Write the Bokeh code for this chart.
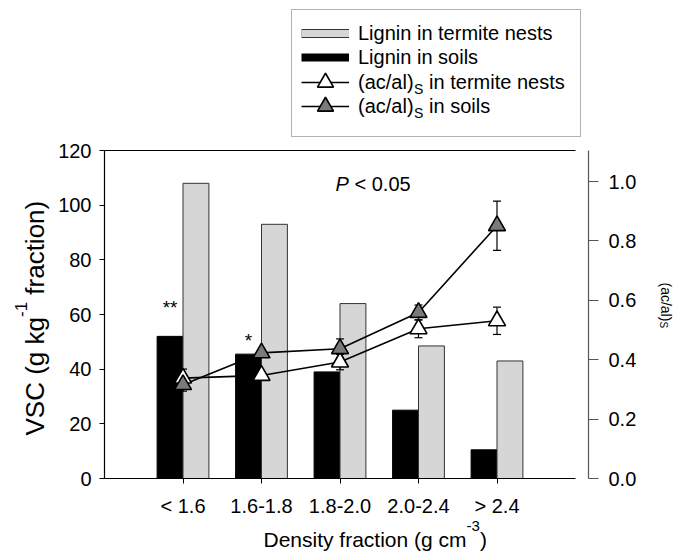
import math
from bokeh.plotting import figure
from bokeh.models import (Range1d, LinearAxis, FixedTicker, Legend, LegendItem, Label,
                          NumeralTickFormatter, BoxAnnotation)
from bokeh.embed import file_html
from bokeh.resources import INLINE

# ---------------- data ----------------
categories = ["< 1.6", "1.6-1.8", "1.8-2.0", "2.0-2.4", "> 2.4"]
lignin_nests = [108, 93, 64, 48.5, 43]
lignin_soils = [52, 45.5, 39, 25, 10.5]
acal_nests = [0.338, 0.347, 0.392, 0.504, 0.531]
acal_nests_err = [0.03, 0.01, 0.026, 0.03, 0.046]
acal_soils = [0.316, 0.423, 0.437, 0.559, 0.851]
acal_soils_err = [0.022, 0.01, 0.033, 0.025, 0.083]
left_ticks = [0, 20, 40, 60, 80, 100, 120]
right_ticks = [0.0, 0.2, 0.4, 0.6, 0.8, 1.0]
sig_marks = ["**", "*", "", "", ""]

# ---------------- layout constants (pixels) ----------------
W, H = 677, 555
FONT = "Liberation Sans"
X0_PX, Y0_PX = 104, 478          # where x=0 / y=0 fall on the canvas
XU = 78.5                         # px per category step
YU = 328 / 120                    # px per g/kg (left axis)
RU = 297                          # px per unit of right axis
RIGHT_AXIS_PX = 588
pos = [i + 1 for i in range(len(categories))]
BW = 0.33

def sy(py):                       # canvas y (from top) -> frame screen y (from bottom)
    return H - py

p = figure(width=W, height=H, output_backend="svg", toolbar_location=None,
           min_border=0, min_border_left=0, min_border_right=0,
           min_border_top=0, min_border_bottom=0,
           x_range=Range1d(-X0_PX / XU, (W - X0_PX) / XU),
           y_range=Range1d(-(H - Y0_PX) / YU, Y0_PX / YU))
p.extra_y_ranges = {"right": Range1d(-(H - Y0_PX) / RU, Y0_PX / RU)}
p.outline_line_color = None
p.grid.visible = False
p.title.visible = False

# bottom axis
xa = p.xaxis[0]
xa.fixed_location = 0
xa.ticker = FixedTicker(ticks=pos)
xa.major_label_overrides = {x: c for x, c in zip(pos, categories)}
xa.bounds = (0, 6)
xa.minor_tick_line_color = None
xa.major_tick_in = 0
xa.major_tick_out = 5
xa.major_label_standoff = 11
xa.major_label_text_font = FONT
xa.major_label_text_font_size = "20px"
xa.major_label_text_color = "black"
xa.axis_line_color = "black"
xa.axis_line_width = 1.2

# left axis
ya = p.yaxis[0]
ya.fixed_location = 0
ya.ticker = FixedTicker(ticks=left_ticks)
ya.bounds = (0, 120)
ya.minor_tick_line_color = None
ya.major_tick_in = 0
ya.major_tick_out = 5
ya.major_label_standoff = 8
ya.major_label_text_font = FONT
ya.major_label_text_font_size = "20px"
ya.major_label_text_color = "black"
ya.axis_line_color = "black"
ya.axis_line_width = 1.2

# top frame line
top_axis = LinearAxis(fixed_location=120, ticker=FixedTicker(ticks=[]), bounds=(0, 6),
                      major_tick_line_color=None, minor_tick_line_color=None,
                      major_label_text_color=None, axis_line_color="black",
                      axis_line_width=1.2)
p.add_layout(top_axis, "above")

# right axis (detached from the bars)
ra = LinearAxis(y_range_name="right", fixed_location=(RIGHT_AXIS_PX - X0_PX) / XU,
                ticker=FixedTicker(ticks=right_ticks), bounds=(0, (Y0_PX - 150) / RU),
                formatter=NumeralTickFormatter(format="0.0"))
ra.minor_tick_line_color = None
ra.major_tick_in = 0
ra.major_tick_out = 10
ra.major_tick_line_color = "#555555"
ra.axis_line_color = "#555555"
ra.axis_line_width = 1.2
ra.major_label_standoff = 10
ra.major_label_text_font = FONT
ra.major_label_text_font_size = "20px"
ra.major_label_text_color = "black"
p.add_layout(ra, "right")

# bars
p.vbar(x=[x - BW / 2 for x in pos], width=BW, top=lignin_soils, bottom=0,
       fill_color="black", line_color="black", line_width=1)
p.vbar(x=[x + BW / 2 for x in pos], width=BW, top=lignin_nests, bottom=0,
       fill_color="#d6d6d6", line_color="#333333", line_width=1)

# lines
ln_nests = p.line(pos, acal_nests, y_range_name="right", line_color="black", line_width=1.6)
ln_soils = p.line(pos, acal_soils, y_range_name="right", line_color="black", line_width=1.6)

# error bars
for vals, errs in ((acal_nests, acal_nests_err), (acal_soils, acal_soils_err)):
    lo = [v - e for v, e in zip(vals, errs)]
    hi = [v + e for v, e in zip(vals, errs)]
    p.segment(x0=pos, y0=lo, x1=pos, y1=hi, y_range_name="right",
              line_color="black", line_width=1.2)
    p.scatter(x=pos + pos, y=lo + hi, marker="dash", size=8, y_range_name="right",
              line_color="black", line_width=1.2)

# triangles
tri_nests = p.scatter(pos, acal_nests, y_range_name="right", marker="triangle", size=17,
                      fill_color="white", line_color="black", line_width=1.6)
tri_soils = p.scatter(pos, acal_soils, y_range_name="right", marker="triangle", size=17,
                      fill_color="#7a7a7a", line_color="black", line_width=1.6)

# legend swatches for the bars: hidden thick-line stand-ins of the bar series
sw_nests_edge = p.line(pos, lignin_nests, line_color="#333333", line_width=9, visible=False)
sw_nests_fill = p.line(pos, lignin_nests, line_color="#d6d6d6", line_width=7, visible=False)
sw_soils = p.line(pos, lignin_soils, line_color="black", line_width=8, visible=False)

# ---------------- legend ----------------
BOX_L, BOX_R, BOX_T, BOX_B = 291, 580, 9, 136
GX, GLW, LSTAND = 301, 48, 9
ROWS = [33, 57, 82, 106]
SUBGAP = "\u2002"

p.add_layout(BoxAnnotation(left=BOX_L, right=BOX_R, top=sy(BOX_T), bottom=sy(BOX_B),
                           left_units="screen", right_units="screen",
                           top_units="screen", bottom_units="screen",
                           fill_color="white", fill_alpha=1,
                           line_color="black", line_width=1))

def make_legend(items, row_top, row_h, n_rows):
    lg = Legend(items=items, location=(GX, sy(row_top + row_h * n_rows)),
                glyph_width=GLW, glyph_height=row_h, label_height=row_h, spacing=0,
                padding=0, margin=0, label_standoff=LSTAND,
                border_line_color=None, background_fill_alpha=0,
                label_text_font=FONT, label_text_font_size="20px",
                label_text_color="black")
    p.add_layout(lg)

make_legend([LegendItem(label="Lignin in termite nests", renderers=[sw_nests_edge, sw_nests_fill]),
             LegendItem(label="Lignin in soils", renderers=[sw_soils])],
            ROWS[0] - 12, 24, 2)
make_legend([LegendItem(label="(ac/al)" + SUBGAP + " in termite nests",
                        renderers=[ln_nests, tri_nests])], ROWS[2] - 20, 40, 1)
make_legend([LegendItem(label="(ac/al)" + SUBGAP + " in soils",
                        renderers=[ln_soils, tri_soils])], ROWS[3] - 20, 40, 1)

def txt(x, y, text, size, angle=0.0, style="normal", align="left"):
    p.add_layout(Label(x=x, y=sy(y), x_units="screen", y_units="screen", text=text,
                       angle=angle, text_font=FONT, text_font_size=size,
                       text_font_style=style, text_baseline="middle",
                       text_align=align, text_color="black"))

# subscript S inside the legend labels
sub_x = GX + GLW + LSTAND + 55.6
for r in ROWS[2:]:
    txt(sub_x, r + 6, "S", "14px")

# significance marks
sig_offsets = [29, 14, 0, 0, 0]
for x, v, m, off in zip(pos, lignin_soils, sig_marks, sig_offsets):
    if m:
        p.add_layout(Label(x=x - BW / 2, y=v, y_offset=off, text=m, text_font=FONT,
                           text_font_size="19px", text_align="center",
                           text_baseline="middle", text_color="black"))

# P < 0.05
txt(335, 183, "P", "20px", style="italic")
txt(354, 183, "< 0.05", "20px")

# x-axis title: Density fraction (g cm-3)
txt(263, 538.6, "Density fraction (g cm", "21px")
txt(466, 525.4, "-3", "15px")
txt(479.5, 538.6, ")", "21px")

# y-axis title: VSC (g kg-1 fraction), reading upward
txt(34, 435, "VSC (g kg", "26px", angle=math.pi / 2)
txt(20, 316.5, "-1", "17px", angle=math.pi / 2)
txt(34, 294.2, "fraction)", "26px", angle=math.pi / 2)

# right axis title: (ac/al)S, reading downward
txt(665.5, 282, "(ac/al)", "14px", angle=-math.pi / 2)
txt(662.5, 321, "S", "10px", angle=-math.pi / 2)

open("out.html", "w").write(file_html(p, INLINE))
